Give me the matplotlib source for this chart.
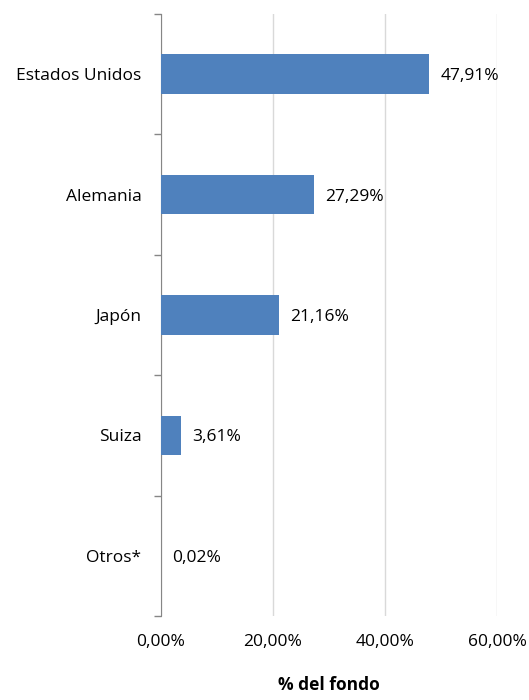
import matplotlib
matplotlib.use("Agg")
import matplotlib.pyplot as plt
import numpy as np

# data
paises = ["Estados Unidos", "Alemania", "Japón", "Suiza", "Otros*"]
valores = [47.91, 27.29, 21.16, 3.61, 0.02]
xticks = [0, 20, 40, 60]

plt.rcParams['font.family'] = ['Open Sans', 'DejaVu Sans']
fs = 12.5

fig = plt.figure(figsize=(5.29, 7.0), dpi=100)
ax = fig.add_axes([161/529, 1 - 616/700, 336/529, 602/700])

y = np.arange(len(paises))
ax.barh(y, valores, height=0.33, color="#4F81BD", zorder=3)
ax.set_ylim(len(paises) - 0.5, -0.5)
ax.set_xlim(0, 60)

for yi, v in zip(y, valores):
    ax.annotate(f"{v:.2f}%".replace(".", ","), (v, yi), xytext=(11, -2),
                textcoords="offset pixels",
                va="center", ha="left", fontsize=fs, color="black")

ax.set_xticks(xticks)
ax.set_xticklabels([f"{t:.2f}%".replace(".", ",") for t in xticks], fontsize=fs)
ax.tick_params(axis="x", length=0, pad=13)
ax.xaxis.grid(True, color="#D9D9D9", linewidth=1, zorder=0)

ax.set_yticks(y)
ax.set_yticklabels(paises, fontsize=fs)
ax.tick_params(axis="y", which="major", length=0, pad=14)
ax.set_yticks(np.arange(-0.5, len(paises)), minor=True)
ax.tick_params(axis="y", which="minor", length=5, color="#868686", width=1)

for s in ["top", "right", "bottom"]:
    ax.spines[s].set_visible(False)
ax.spines["left"].set_color("#868686")

ax.set_xlabel("% del fondo", fontsize=fs, fontweight="bold", labelpad=19)

fig.savefig("out.png", dpi=100)
